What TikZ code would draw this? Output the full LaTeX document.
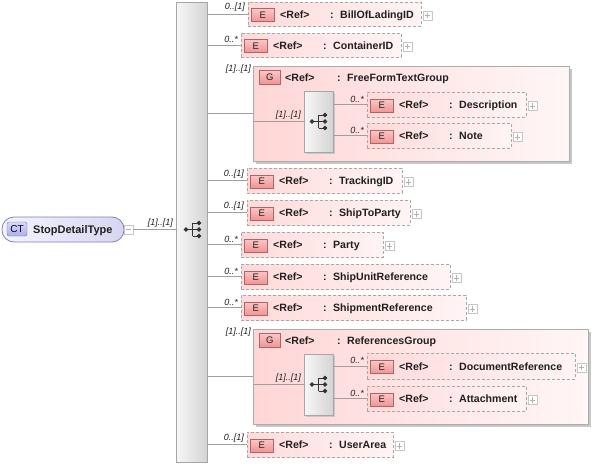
\documentclass[tikz,border=0pt]{standalone}
\usepackage{fontspec}
\setmainfont{Liberation Sans}
\usetikzlibrary{calc}
\definecolor{elL}{HTML}{FFDADA}
\definecolor{elR}{HTML}{FFF4F4}
\definecolor{elB}{HTML}{A8A8A8}
\definecolor{bdT}{HTML}{FCC6C6}
\definecolor{bdB}{HTML}{F09494}
\definecolor{bdD}{HTML}{B06464}
\definecolor{grL}{HTML}{FFD6D6}
\definecolor{grR}{HTML}{FFF6F6}
\definecolor{seqL}{HTML}{F7F7F7}
\definecolor{seqR}{HTML}{D4D4D4}
\definecolor{ctL}{HTML}{F4F4FD}
\definecolor{ctR}{HTML}{D6D6F2}
\definecolor{ctD}{HTML}{8080B8}
\definecolor{ctbT}{HTML}{D8D8F6}
\definecolor{ctbB}{HTML}{B0B0E6}
\definecolor{txt}{HTML}{202020}
\tikzset{
 elbox/.style={draw=elB, dash pattern=on 3pt off 2pt, left color=elL, right color=elR, inner sep=0, outer sep=0, line width=0.7pt},
 grbox/.style={draw=gray!65, left color=grL, right color=grR, inner sep=0, outer sep=0, line width=0.8pt},
 grshadow/.style={fill=black!22, inner sep=0, outer sep=0},
 badge/.style={draw=bdD, top color=bdT, bottom color=bdB, minimum width=23pt, minimum height=13pt, inner sep=0, font=\fontsize{9.5}{10}\selectfont, text=txt},
 reftxt/.style={font=\fontsize{10.6}{12}\selectfont\bfseries, text=txt, inner sep=0},
 mult/.style={font=\fontsize{9}{10}\selectfont\itshape, text=txt, inner sep=0},
 conn/.style={draw=gray!75, line width=0.8pt},
 seqbox/.style={draw=gray!70, left color=seqL, right color=seqR, inner sep=0, outer sep=0, line width=0.8pt},
 icon/.style={draw=black!80, fill=black!80, line width=0.8pt},
 plusbox/.style={draw=gray!45, fill=white, minimum size=9pt, inner sep=0, line width=0.6pt,
   path picture={\draw[gray!60, line width=0.6pt] ([xshift=-2.6pt]path picture bounding box.center) -- ([xshift=2.6pt]path picture bounding box.center) ([yshift=-2.6pt]path picture bounding box.center) -- ([yshift=2.6pt]path picture bounding box.center);}},
 minusbox/.style={draw=gray!45, fill=white, minimum size=9pt, inner sep=0, line width=0.6pt,
   path picture={\draw[gray!60, line width=0.6pt] ([xshift=-2.6pt]path picture bounding box.center) -- ([xshift=2.6pt]path picture bounding box.center);}},
}
\newcommand\SeqIcon[1]{%
 \begin{scope}[shift={(#1)}]
 \draw[icon] (-6.5,0) -- (0,0) (0,-6.5) -- (0,6.5) (0,-6.5) -- (6.5,-6.5) (0,0) -- (6.5,0) (0,6.5) -- (6.5,6.5);
 \fill[icon] (-6.5,0) circle (1.9pt) (6.5,-6.5) circle (1.9pt) (6.5,0) circle (1.9pt) (6.5,6.5) circle (1.9pt);
 \end{scope}}
% id, left, top, right, bottom, name, multiplicity, source
\newcommand\El[8]{%
 \draw[conn] (#8.east |- {(0,{(#3+#5)/2})}) -- ({#2},{(#3+#5)/2});
 \node[elbox, minimum width={(#4-#2)*1pt}, minimum height={(#5-#3)*1pt}] (#1) at ({(#2+#4)/2},{(#3+#5)/2}) {};
 \node[badge, anchor=west] (#1b) at ([xshift=3pt,yshift=-1pt]#1.west) {E};
 \node[reftxt, anchor=base west] (#1r) at ([xshift=32pt,yshift=-4pt]#1.west) {<Ref>};
 \node[reftxt, anchor=base west] (#1n) at ([xshift=82pt,yshift=-4pt]#1.west) {:\hspace{2.5pt} #6};
 \node[plusbox] (#1p) at ([xshift=6.5pt,yshift=-1.5pt]#1.east) {};
 \node[mult, anchor=south east] (#1m) at ([xshift=-3pt,yshift=2pt]#1.west) {#7};
}
% id, left, top, right, bottom, name
\newcommand\Gr[6]{%
 \draw[conn] (bar.east |- {(0,{(#3+#5)/2})}) -- ({#2},{(#3+#5)/2});
 \node[grshadow, minimum width={(#4-#2)*1pt}, minimum height={(#5-#3)*1pt}] (#1sh) at ({(#2+#4)/2+3},{(#3+#5)/2+3}) {};
 \node[grbox, minimum width={(#4-#2)*1pt}, minimum height={(#5-#3)*1pt}] (#1) at ({(#2+#4)/2},{(#3+#5)/2}) {};
 \node[badge, anchor=north west, minimum width=21pt, minimum height=14pt] (#1b) at ([xshift=6pt,yshift=-4pt]#1.north west) {G};
 \node[reftxt, anchor=base west] (#1r) at ([xshift=32pt,yshift=-15pt]#1.north west) {<Ref>};
 \node[reftxt, anchor=base west] (#1n) at ([xshift=84pt,yshift=-15pt]#1.north west) {:\hspace{2.5pt} #6};
 \node[grshadow, minimum width=29pt, minimum height=61pt, anchor=north west] (#1Ssh) at ([xshift=53pt,yshift=-27pt]#1.north west) {};
 \node[seqbox, minimum width=29pt, minimum height=61pt, anchor=north west] (#1S) at ([xshift=51pt,yshift=-25pt]#1.north west) {};
 \SeqIcon{#1S.center}
 \draw[conn] (#1.west |- #1S.west) -- (#1S.west);
 \node[mult, anchor=south east] (#1im) at ([xshift=-3pt,yshift=2pt]#1S.west) {[1]..[1]};
 \node[mult, anchor=east] (#1m) at ([xshift=-2pt,yshift=-3pt]#1.north west) {[1]..[1]};
}
\begin{document}
\begin{tikzpicture}[x=1pt,y=-1pt]
\useasboundingbox[fill=white] (0,0) rectangle (594,464);
% central sequence bar
\node[seqbox, minimum width=31pt, minimum height=460pt] (bar) at (191.5,232) {};
% complex type
\node[draw=ctD, left color=ctL, right color=ctR, rounded corners=12pt, minimum width=122pt, minimum height=25pt, inner sep=0, line width=0.8pt] (ct) at (63,229.5) {};
\node[draw=ctD!90!black, top color=ctbT, bottom color=ctbB, rounded corners=2pt, minimum width=20pt, minimum height=14pt, inner sep=0, font=\fontsize{10}{10}\selectfont, text=black!75!blue!60!black] (ctb) at (17,229) {CT};
\node[reftxt, font=\fontsize{11}{12}\selectfont\bfseries, anchor=base west] (ctn) at (33,233.5) {StopDetailType};
\node[minusbox] (ctm) at (128.5,229.5) {};
\draw[conn] (ctm.east) -- (bar.west |- ctm.east);
\node[mult, anchor=south east] (ctmul) at ([xshift=-3pt,yshift=2pt]bar.west |- ctm.east) {[1]..[1]};
\SeqIcon{[xshift=1pt]bar.center |- ctm.east}
% children
\El{bol}{248}{2}{421}{26}{BillOfLadingID}{0..[1]}{bar}
\El{cont}{241}{33}{401}{57}{ContainerID}{0..*}{bar}
\Gr{fft}{253}{66}{569}{161}{FreeFormTextGroup}
\El{desc}{367}{92}{526}{117}{Description}{0..*}{fftS}
\El{note}{367}{123}{511}{148}{Note}{0..*}{fftS}
\El{trk}{247}{168}{402}{193}{TrackingID}{0..[1]}{bar}
\El{stp}{247}{200}{410}{225}{ShipToParty}{0..[1]}{bar}
\El{party}{241}{232}{383}{257}{Party}{0..*}{bar}
\El{sur}{241}{264}{450}{289}{ShipUnitReference}{0..*}{bar}
\El{shr}{241}{295}{466}{320}{ShipmentReference}{0..*}{bar}
\Gr{refg}{253}{329}{588}{424}{ReferencesGroup}
\El{doc}{367}{353}{575}{379}{DocumentReference}{0..*}{refgS}
\El{att}{367}{386}{526}{411}{Attachment}{0..*}{refgS}
\El{ua}{247}{432}{393}{457}{UserArea}{0..[1]}{bar}
\end{tikzpicture}
\end{document}
